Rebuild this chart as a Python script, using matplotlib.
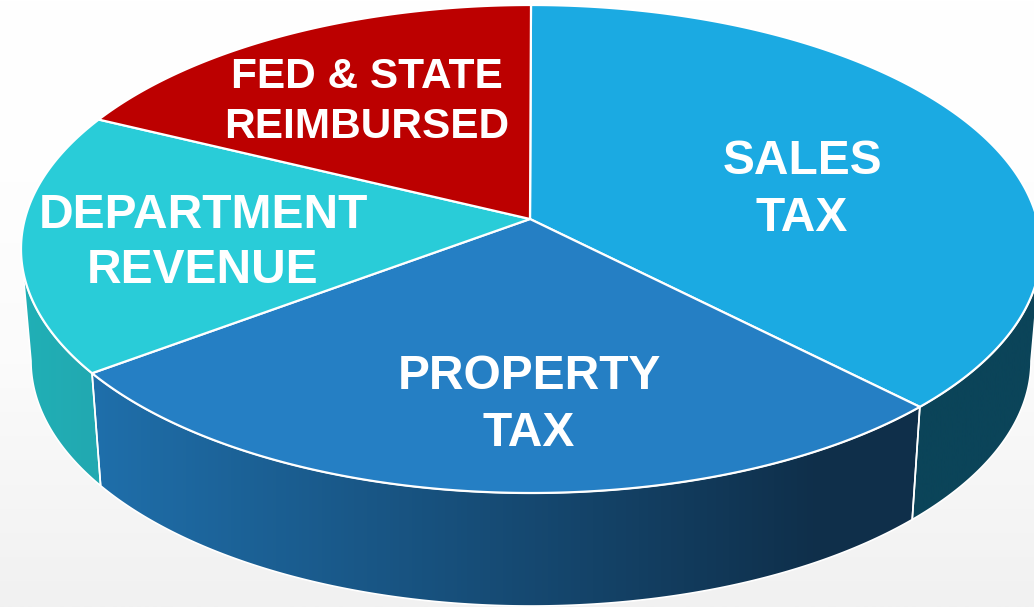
import numpy as np
import matplotlib
matplotlib.use("Agg")
import matplotlib.pyplot as plt
from matplotlib.colors import LinearSegmentedColormap
from matplotlib.patches import Polygon

# --- data (clockwise from 12 o'clock) ---
categories = ["SALES\nTAX", "PROPERTY\nTAX", "DEPARTMENT\nREVENUE", "FED & STATE\nREIMBURSED"]
values = [36.2, 30.3, 17.4, 16.1]
top_colors = ["#1BAAE2", "#257FC4", "#29CCD8", "#BC0000"]
wall_left = ["#0B4459", "#1F6FAB", "#20B0B6", None]
wall_right = ["#0B4459", "#0F2F4A", "#22A9B1", None]
label_xy = [(802, 190), (529, 405), (203, 243), (367, 102)]
label_pt = [34.5, 34.5, 34.5, 30.5]
label_spacing = [1.33, 1.33, 1.31, 1.3]

# --- geometry of the projected pie, in pixels ---
W, H = 1034, 607
apex = (530, 219)
top_c, top_r = (531, 249), (510, 244)
bot_c, bot_r = (531, 361), (500, 245)


def ell(c, r, deg):
    a = np.radians(deg)
    return np.column_stack([c[0] + r[0] * np.sin(a), c[1] - r[1] * np.cos(a)])


fig = plt.figure(figsize=(W / 100, H / 100), dpi=100)
ax = fig.add_axes([0, 0, 1, 1])
ax.set_xlim(0, W)
ax.set_ylim(H, 0)
ax.axis("off")

# page background: white fading to light grey towards the bottom
bg = LinearSegmentedColormap.from_list("bg", [(0, "#FFFFFF"), (0.3, "#FEFEFE"), (0.6, "#FBFBFB"), (1, "#F1F1F1")])
ax.imshow(np.linspace(0, 1, 256)[:, None], extent=(0, W, H, 0), cmap=bg, vmin=0, vmax=1, aspect="auto", zorder=0)

edges = np.cumsum([0] + values) / np.sum(values) * 360

# side walls (only the front half, 90..270 degrees, can be seen)
for i, col in enumerate(wall_left):
    t0, t1 = max(edges[i], 90), min(edges[i + 1], 270)
    if col is None or t1 <= t0:
        continue
    t = np.linspace(t0, t1, 200)
    outline = np.vstack([ell(top_c, top_r, t), ell(bot_c, bot_r, t)[::-1]])
    x0, x1 = outline[:, 0].min(), outline[:, 0].max()
    cm = LinearSegmentedColormap.from_list(f"w{i}", [(0, col), (0.88, wall_right[i]), (1, wall_right[i])])
    poly = Polygon(outline, closed=True, fc="none", ec="none", transform=ax.transData)
    ax.add_patch(poly)
    im = ax.imshow(np.linspace(0, 1, 256)[None, :], extent=(x0, x1, H, 0), cmap=cm, aspect="auto", zorder=1)
    im.set_clip_path(poly)
    ax.add_patch(Polygon(outline, closed=True, fc="none", ec="white", lw=1.2, zorder=2))

# top faces
for i, col in enumerate(top_colors):
    t = np.linspace(edges[i], edges[i + 1], 300)
    pts = np.vstack([[apex], ell(top_c, top_r, t)])
    ax.add_patch(Polygon(pts, closed=True, fc=col, ec="white", lw=1.6, joinstyle="round", zorder=3))

# labels
for (x, y), s, pt, sp in zip(label_xy, categories, label_pt, label_spacing):
    ax.text(x, y, s, color="white", fontsize=pt, fontweight="bold", family="Liberation Sans",
            ha="center", va="center", multialignment="center", linespacing=sp, zorder=4)

ax.set_xlim(0, W)
ax.set_ylim(H, 0)
fig.savefig("out.png", dpi=100)
